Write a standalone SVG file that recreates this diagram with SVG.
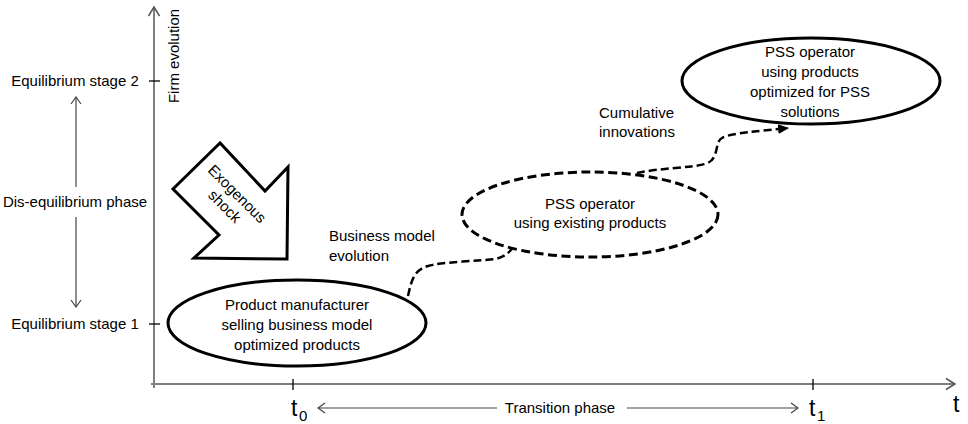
<svg xmlns="http://www.w3.org/2000/svg" width="968" height="424" viewBox="0 0 968 424">
<style>
text{font-family:"Liberation Sans",Arial,sans-serif;font-size:15px;fill:#000}
.ax{stroke:#7f7f7f;stroke-width:2;fill:none}
.thin{stroke:#444;stroke-width:1.2;fill:none}
.tick{stroke:#000;stroke-width:1.3}
.node{fill:#fff;stroke:#000;stroke-width:3}
.dash{stroke-dasharray:9 4.5}
.conn{fill:none;stroke:#000;stroke-width:2.5;stroke-dasharray:8 4}
.big{font-size:23px}
</style>
<defs>
<marker id="open" markerWidth="10" markerHeight="12" refX="8" refY="6" orient="auto" markerUnits="userSpaceOnUse">
<path d="M1,1 L8,6 L1,11" fill="none" stroke="#444" stroke-width="1.2"/>
</marker>
<marker id="openax" markerWidth="12" markerHeight="14" refX="10" refY="7" orient="auto" markerUnits="userSpaceOnUse">
<path d="M1,1.5 L10,7 L1,12.5" fill="none" stroke="#555" stroke-width="1.5"/>
</marker>
<marker id="fill" markerWidth="12" markerHeight="10" refX="10" refY="5" orient="auto" markerUnits="userSpaceOnUse">
<path d="M0,0 L11,5 L0,10 Z" fill="#000"/>
</marker>
</defs>

<g id="axes">
<line class="ax" x1="154" y1="388" x2="154" y2="7" marker-end="url(#openax)"/>
<line class="ax" x1="151" y1="384" x2="955" y2="384" marker-end="url(#openax)"/>
<line class="tick" x1="149" y1="81" x2="160" y2="81"/>
<line class="tick" x1="149" y1="324" x2="160" y2="324"/>
<line class="tick" x1="293" y1="379" x2="293" y2="390"/>
<line class="tick" x1="813" y1="379" x2="813" y2="390"/>
<text transform="translate(179,56) rotate(-90)" text-anchor="middle">Firm evolution</text>
<text x="75" y="86" text-anchor="middle">Equilibrium stage 2</text>
<text x="75" y="207" text-anchor="middle">Dis-equilibrium phase</text>
<text x="75" y="329" text-anchor="middle">Equilibrium stage 1</text>
<line class="thin" x1="76" y1="187" x2="76" y2="97" marker-end="url(#open)"/>
<line class="thin" x1="76" y1="217" x2="76" y2="307" marker-end="url(#open)"/>
<text class="big" x="291" y="416">t</text><text x="299" y="421">0</text>
<text class="big" x="809" y="416">t</text><text x="817" y="421">1</text>
<text class="big" x="953" y="412">t</text>
<line class="thin" x1="497" y1="408" x2="318" y2="408" marker-end="url(#open)"/>
<line class="thin" x1="627" y1="408" x2="798" y2="408" marker-end="url(#open)"/>
<text x="560" y="413" text-anchor="middle">Transition phase</text>
</g>

<g id="shock">
<polygon points="220,143 173,189 219,235 194,258 287,259 288,167 265,191" fill="#fff" stroke="#000" stroke-width="3" stroke-linejoin="miter"/>
<text transform="translate(231,200) rotate(45)" font-size="14" text-anchor="middle"><tspan x="0" y="-3.5">Exogenous</tspan><tspan x="0" y="14">shock</tspan></text>
</g>

<g id="connectors">
<path class="conn" d="M408,296 C411,283 413,270 428,266 C440,262 480,261 495,259 C505,257 510,252 513,247"/>
<path class="conn" d="M637,173 C660,168 690,168 705,164 C720,160 714,142 722,138 C730,133 760,131 788,128" marker-end="url(#fill)"/>
<text x="329" y="241">Business model</text>
<text x="329" y="261">evolution</text>
<text x="599" y="118">Cumulative</text>
<text x="599" y="137">innovations</text>
</g>

<g id="n1">
<ellipse class="node" cx="297" cy="323" rx="129" ry="43"/>
<text x="297" y="310" text-anchor="middle">Product manufacturer</text>
<text x="297" y="330" text-anchor="middle">selling business model</text>
<text x="297" y="350" text-anchor="middle">optimized products</text>
</g>

<g id="n2">
<ellipse class="node dash" cx="590" cy="214.5" rx="128" ry="42.5"/>
<text x="590" y="209" text-anchor="middle">PSS operator</text>
<text x="590" y="228" text-anchor="middle">using existing products</text>
</g>

<g id="n3">
<ellipse class="node" cx="811" cy="81" rx="129" ry="43"/>
<text x="810" y="57" text-anchor="middle">PSS operator</text>
<text x="810" y="77" text-anchor="middle">using products</text>
<text x="810" y="97" text-anchor="middle">optimized for PSS</text>
<text x="810" y="117" text-anchor="middle">solutions</text>
</g>
</svg>
